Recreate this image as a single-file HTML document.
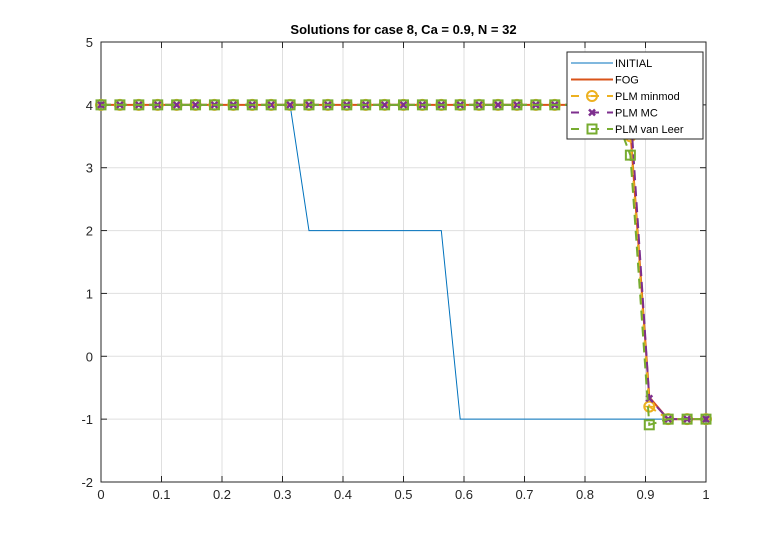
<!DOCTYPE html>
<html><head><meta charset="utf-8"><style>
body{margin:0;background:#fff;font-family:"Liberation Sans",sans-serif}
svg text{font-family:"Liberation Sans",sans-serif}
</style></head><body>
<svg id="c" width="777" height="543"></svg>
<script>
const xs=[];for(let i=0;i<=32;i++)xs.push(i/32);
const xTicks=[0,0.1,0.2,0.3,0.4,0.5,0.6,0.7,0.8,0.9,1];
const yTicks=[-2,-1,0,1,2,3,4,5];
const initialX=[0,0.3125,0.34375,0.5625,0.59375,1];
const initialY=[4,4,2,2,-1,-1];
const fogY=[4,4,4,4,4,4,4,4,4,4,4,4,4,4,4,4,4,4,4,4,4,4,4,4,4,4,4,4,3.6,-0.65,-1,-1,-1];
const minmodY=[4,4,4,4,4,4,4,4,4,4,4,4,4,4,4,4,4,4,4,4,4,4,4,4,4,4,4,4,3.5,-0.8,-1,-1,-1];
const mcY=[4,4,4,4,4,4,4,4,4,4,4,4,4,4,4,4,4,4,4,4,4,4,4,4,4,4,4,4,3.95,-0.67,-1,-1,-1];
const vlY=[4,4,4,4,4,4,4,4,4,4,4,4,4,4,4,4,4,4,4,4,4,4,4,4,4,4,4,4,3.2,-1.09,-1,-1,-1];
const L=101,R=706,T=42,B=482;
const sx=v=>L+v*(R-L), sy=v=>B-(v+2)/7*(B-T);
const svg=document.getElementById('c');const NS='http://www.w3.org/2000/svg';
function el(t,a,p){const e=document.createElementNS(NS,t);for(const k in a)e.setAttribute(k,a[k]);(p||svg).appendChild(e);return e;}
el('rect',{x:L,y:T,width:R-L,height:B-T,fill:'#fff'});
const grid=el('g',{});
xTicks.forEach(v=>{el('line',{x1:sx(v),x2:sx(v),y1:T,y2:B,stroke:'#dfdfdf'},grid);});
yTicks.forEach(v=>{el('line',{x1:L,x2:R,y1:sy(v),y2:sy(v),stroke:'#dfdfdf'},grid);});
const xa=el('g',{});
xTicks.forEach(v=>{el('line',{x1:sx(v),x2:sx(v),y1:B,y2:B-6,stroke:'#262626'},xa);el('line',{x1:sx(v),x2:sx(v),y1:T,y2:T+6,stroke:'#262626'},xa);const t=el('text',{x:sx(v),y:B+17,'text-anchor':'middle','font-size':13,fill:'#262626'},xa);t.textContent=String(v);});
const ya=el('g',{});
yTicks.forEach(v=>{el('line',{x1:L,x2:L+6,y1:sy(v),y2:sy(v),stroke:'#262626'},ya);el('line',{x1:R,x2:R-6,y1:sy(v),y2:sy(v),stroke:'#262626'},ya);const t=el('text',{x:L-8,y:sy(v)+5,'text-anchor':'end','font-size':13,fill:'#262626'},ya);t.textContent=String(v);});
el('rect',{x:L,y:T,width:R-L,height:B-T,fill:'none',stroke:'#262626'});
const ti=el('text',{x:(L+R)/2,y:34,'text-anchor':'middle','font-size':13,'font-weight':'bold',fill:'#000'});ti.textContent='Solutions for case 8, Ca = 0.9, N = 32';
function pts(X,Y){return X.map((x,i)=>sx(x)+','+sy(Y[i])).join(' ');}
const s1=el('polyline',{points:pts(initialX,initialY),fill:'none',stroke:'#0072BD','stroke-width':1});
const s2=el('polyline',{points:pts(xs,fogY),fill:'none',stroke:'#D95319','stroke-width':2});
function series(Y,col,mk,name){const g=el('g',{});
el('polyline',{points:pts(xs,Y),fill:'none',stroke:col,'stroke-width':2,'stroke-dasharray':'10,6'},g);
xs.forEach((x,i)=>marker(sx(x),sy(Y[i]),col,mk,g));}
function marker(x,y,col,mk,g){
if(mk==='o'){el('circle',{cx:x,cy:y,r:5,fill:'none',stroke:col,'stroke-width':2},g);el('line',{x1:x-5,x2:x+5,y1:y,y2:y,stroke:col,'stroke-width':1.5},g);}
else if(mk==='x'){el('path',{d:`M${x-3},${y-3}L${x+3},${y+3}M${x-3},${y+3}L${x+3},${y-3}`,stroke:col,'stroke-width':2.5},g);}
else{el('rect',{x:x-4.5,y:y-4.5,width:9,height:9,fill:'none',stroke:col,'stroke-width':2},g);}}
series(minmodY,'#EDB120','o','plm-minmod-series');
series(mcY,'#7E2F8E','x','plm-mc-series');
series(vlY,'#77AC30','s','plm-van-leer-series');
const lg=el('g',{});
el('rect',{x:567,y:52,width:136,height:87,fill:'#fff',stroke:'#262626'},lg);
const items=[['INITIAL','#0072BD',null,1],['FOG','#D95319',null,2],['PLM minmod','#EDB120','o',2],['PLM MC','#7E2F8E','x',2],['PLM van Leer','#77AC30','s',2]];
items.forEach((it,i)=>{const y=63+i*16.5;
el('line',{x1:571,x2:613,y1:y,y2:y,stroke:it[1],'stroke-width':it[3],'stroke-dasharray':it[2]?'8,12,8':'none'},lg);
if(it[2])marker(592,y,it[1],it[2],lg);
const t=el('text',{x:615,y:y+4,'font-size':11,fill:'#000'},lg);t.textContent=it[0];});
</script>
</body></html>
